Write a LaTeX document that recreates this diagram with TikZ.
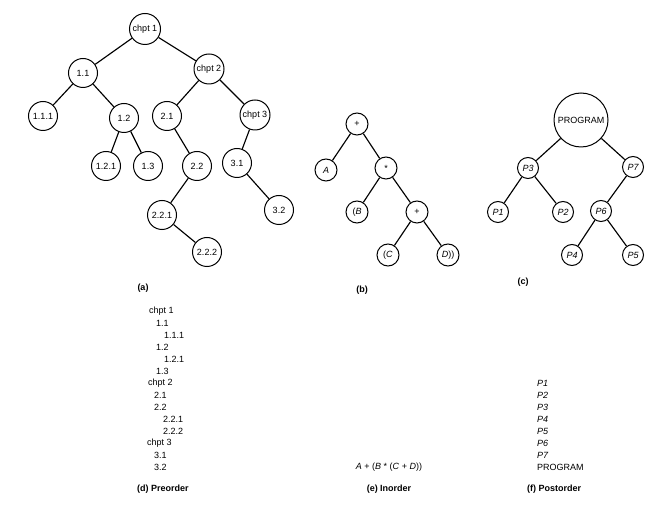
\documentclass[tikz,border=0pt]{standalone}
\usepackage{fontspec}
\setmainfont{Liberation Sans}
\begin{document}
\begin{tikzpicture}[x=1pt,y=-1pt,
  every node/.style={font=\fontsize{9}{10}\selectfont},
  ta/.style={circle,draw,line width=1pt,minimum size=29pt,inner sep=0.5pt},
  tb/.style={circle,draw,line width=1pt,minimum size=22pt,inner sep=0.5pt},
  tc/.style={circle,draw,line width=1pt,minimum size=21pt,inner sep=0.5pt},
  tedge/.style={line width=1.15pt},
  captxt/.style={font=\fontsize{9}{10}\selectfont\bfseries},
  lst/.style={anchor=west,inner sep=0pt}]
\useasboundingbox (0,0) rectangle (661,510);
% ---- tree (a)
\node[ta,minimum size=31pt] (c1) at (145,29) {chpt 1};
\node[ta] (n11) at (83,73) {1.1};
\node[ta,minimum size=30pt] (c2) at (209,69) {chpt 2};
\node[ta] (n111) at (43,116) {1.1.1};
\node[ta] (n12) at (124,118) {1.2};
\node[ta] (n21) at (167,116) {2.1};
\node[ta,minimum size=30pt] (c3) at (255,115) {chpt 3};
\node[ta] (n121) at (106,166) {1.2.1};
\node[ta] (n13) at (148,166) {1.3};
\node[ta] (n22) at (197,166) {2.2};
\node[ta] (n31) at (237,163) {3.1};
\node[ta] (n32) at (279,210) {3.2};
\node[ta] (n221) at (162,215) {2.2.1};
\node[ta] (n222) at (207,252) {2.2.2};
\draw[tedge] (c1)--(n11) (c1)--(c2) (n11)--(n111) (n11)--(n12)
  (n12)--(n121) (n12)--(n13) (c2)--(n21) (c2)--(c3) (n21)--(n22)
  (n22)--(n221) (n221)--(n222) (c3)--(n31) (n31)--(n32);
\node[captxt] (la) at (143,288) {(a)};
% ---- tree (b)
\node[tb] (br) at (357,124) {+};
\node[tb] (bA) at (326,170) {\itshape A};
\node[tb] (bm) at (386,168) {*};
\node[tb] (bB) at (357,212) {(\textit{B}};
\node[tb] (bp) at (417,212) {+};
\node[tb] (bC) at (388,255) {(\textit{C}};
\node[tb] (bD) at (448,255) {\textit{D}))};
\draw[tedge] (br)--(bA) (br)--(bm) (bm)--(bB) (bm)--(bp) (bp)--(bC) (bp)--(bD);
\node[captxt] (lb) at (362,290) {(b)};
% ---- tree (c)
\node[tc,minimum size=54pt] (pr) at (581,120) {PROGRAM};
\node[tc] (p3) at (528,168) {\itshape P3};
\node[tc] (p7) at (633,167) {\itshape P7};
\node[tc] (p1) at (498,212) {\itshape P1};
\node[tc] (p2) at (563,212) {\itshape P2};
\node[tc] (p6) at (601,211) {\itshape P6};
\node[tc] (p4) at (572,255) {\itshape P4};
\node[tc] (p5) at (633,255) {\itshape P5};
\draw[tedge] (pr)--(p3) (pr)--(p7) (p3)--(p1) (p3)--(p2) (p7)--(p6) (p6)--(p4) (p6)--(p5);
\node[captxt] (lc) at (523,282) {(c)};
% ---- (d) preorder
\node[lst] (d1) at (149,311) {chpt 1};
\node[lst] (d2) at (156,323) {1.1};
\node[lst] (d3) at (164,335) {1.1.1};
\node[lst] (d4) at (156,347) {1.2};
\node[lst] (d5) at (164,359) {1.2.1};
\node[lst] (d6) at (156,371) {1.3};
\node[lst] (d7) at (148,383) {chpt 2};
\node[lst] (d8) at (154,395) {2.1};
\node[lst] (d9) at (154,407) {2.2};
\node[lst] (d10) at (163,419) {2.2.1};
\node[lst] (d11) at (163,431) {2.2.2};
\node[lst] (d12) at (147,443) {chpt 3};
\node[lst] (d13) at (154,455) {3.1};
\node[lst] (d14) at (154,467) {3.2};
\node[captxt,anchor=west,inner sep=0pt] (ld) at (137,489) {(d) Preorder};
% ---- (e) inorder
\node (e1) at (389,467) {\textit{A} + (\textit{B} * (\textit{C} + \textit{D}))};
\node[captxt] (le) at (389,489) {(e) Inorder};
% ---- (f) postorder
\node[lst] (f1) at (537,383) {\itshape P1};
\node[lst] (f2) at (537,395) {\itshape P2};
\node[lst] (f3) at (537,407) {\itshape P3};
\node[lst] (f4) at (537,419) {\itshape P4};
\node[lst] (f5) at (537,431) {\itshape P5};
\node[lst] (f6) at (537,443) {\itshape P6};
\node[lst] (f7) at (537,455) {\itshape P7};
\node[lst] (f8) at (537,467) {PROGRAM};
\node[captxt,anchor=west,inner sep=0pt] (lf) at (527,489) {(f) Postorder};
\end{tikzpicture}
\end{document}
